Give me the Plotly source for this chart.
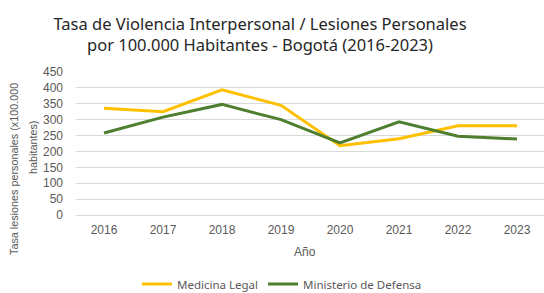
import plotly.graph_objects as go

years = ["2016", "2017", "2018", "2019", "2020", "2021", "2022", "2023"]
medicina_legal = [336, 325, 394, 345, 218, 240, 281, 281]
ministerio_defensa = [258, 308, 348, 300, 227, 293, 248, 239]
y_ticks = [0, 50, 100, 150, 200, 250, 300, 350, 400, 450]

W, H = 544, 293
L, R, T, B = 76, 0, 72, 78
pw = W - L - R
ph = H - T - B

def px_x(p):
    return (p - L) / pw

def px_y(p):
    return (H - B - p) / ph

grey = "#595959"
fig = go.Figure()
fig.add_trace(go.Scatter(x=years, y=medicina_legal, mode="lines", name="Medicina Legal",
                         line=dict(color="#FFC000", width=3)))
fig.add_trace(go.Scatter(x=years, y=ministerio_defensa, mode="lines", name="Ministerio de Defensa",
                         line=dict(color="#4E7F2E", width=3)))

fig.update_layout(
    width=W, height=H,
    margin=dict(l=L, r=R, t=T, b=B, autoexpand=False),
    paper_bgcolor="white", plot_bgcolor="white",
    font=dict(family="Liberation Sans, Arial, sans-serif", color=grey, size=12),
    title=dict(text="Tasa de Violencia Interpersonal / Lesiones Personales<br>por 100.000 Habitantes - Bogotá (2016-2023)",
               x=260 / W, xanchor="center", xref="container",
               y=1 - 30 / H, yanchor="middle", yref="container",
               font=dict(family="Noto Sans, sans-serif", size=16.5, color="#262626")),
    showlegend=True,
    legend=dict(orientation="h", x=137 / W, y=1 - 284 / H, xref="container", yref="container",
                xanchor="left", yanchor="middle",
                font=dict(family="Noto Sans, sans-serif", size=11.5, color=grey),
                itemwidth=30, bgcolor="rgba(0,0,0,0)"),
    xaxis=dict(type="category", range=[-0.475, 7.457], showgrid=False, zeroline=False,
               showline=False, ticks="", tickfont=dict(size=12, color=grey),
               ticklabelstandoff=6, fixedrange=True, automargin=False),
    yaxis=dict(range=[0, 450], tickvals=y_ticks, showgrid=True, gridcolor="#d9d9d9",
               gridwidth=1, zeroline=True, zerolinecolor="#d9d9d9", zerolinewidth=1,
               showline=False, ticks="", tickfont=dict(size=12, color=grey),
               ticklabelstandoff=12, fixedrange=True, automargin=False),
)

fig.add_annotation(text="Tasa lesiones personales (x100.000", textangle=-90,
                   x=px_x(14), y=px_y(169), xref="paper", yref="paper",
                   xanchor="center", yanchor="middle", showarrow=False,
                   font=dict(size=10.8, color=grey))
fig.add_annotation(text="habitantes)", textangle=-90,
                   x=px_x(33), y=px_y(148), xref="paper", yref="paper",
                   xanchor="center", yanchor="middle", showarrow=False,
                   font=dict(size=10.8, color=grey))
fig.add_annotation(text="Año", x=px_x(305), y=px_y(252), xref="paper", yref="paper",
                   xanchor="center", yanchor="middle", showarrow=False,
                   font=dict(size=12, color=grey))

fig.write_html("out.html", config={"displayModeBar": False},
               post_script="document.body.style.margin='0';")
